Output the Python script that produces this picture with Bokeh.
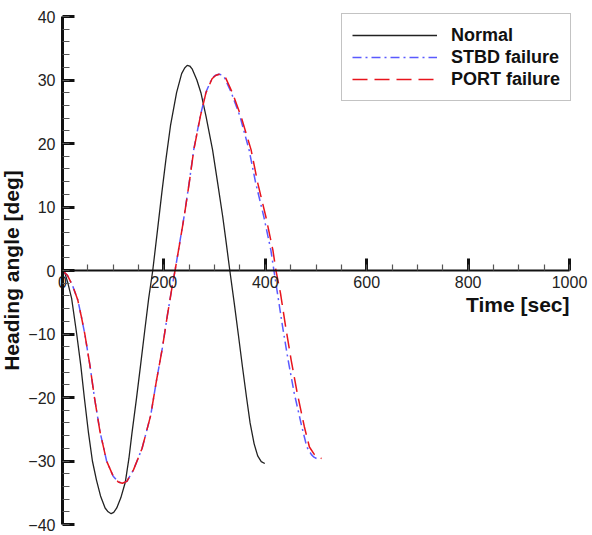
from bokeh.plotting import figure
from bokeh.models import Range1d, SingleIntervalTicker, Label
from bokeh.embed import file_html
from bokeh.resources import INLINE

# ---- data ----
normal_time = [0, 5, 10, 18, 28, 36, 43, 51, 59, 67, 75, 84, 90, 96, 101, 107, 115, 124, 131, 137,
               146, 154, 162, 170, 178, 188, 196, 204, 213, 225, 235, 241, 246, 251, 256, 265, 273,
               283, 296, 306, 316, 323, 330, 339, 347, 355, 363, 370, 378, 385, 392, 399]
normal_heading = [0, -0.5, -1.8, -4.4, -10.0, -14.9, -20.0, -25.4, -30.0, -33.0, -35.5, -37.4,
                  -38.0, -38.3, -38.1, -37.4, -35.8, -33.3, -29.6, -25.6, -20.1, -14.9, -9.6, -4.4,
                  0, 6.8, 12.3, 17.5, 22.8, 28.0, 31.0, 31.9, 32.3, 32.2, 31.7, 30.0, 28.0, 24.3,
                  19.0, 13.8, 8.5, 4.3, 0, -5.3, -10.2, -15.2, -20.0, -24.0, -27.3, -29.2, -30.1,
                  -30.4]

stbd_time = [0, 10, 20, 30, 37, 44, 54, 63, 74, 87, 100, 110, 118, 127, 140, 157, 174, 185, 197, 207,
             218, 222, 231, 240, 250, 259, 272, 283, 295, 301, 308, 314, 320, 333, 350, 368, 381, 397,
             411, 417, 424, 434, 445, 457, 472, 482, 491, 496, 501]
stbd_heading = [0, -0.8, -2.4, -4.6, -7.2, -10.0, -14.9, -20.0, -25.4, -30.0, -32.4, -33.3, -33.5,
                -33.2, -31.4, -28.0, -22.8, -17.5, -12.2, -7.0, -1.7, 0, 4.3, 8.6, 13.9, 19.1, 24.4,
                28.1, 30.3, 30.7, 30.9, 30.8, 30.3, 28.0, 24.3, 19.0, 13.8, 8.5, 3.2, 0, -3.6, -8.8,
                -14.1, -19.3, -24.6, -27.8, -29.0, -29.4, -29.6]

port_time = [0, 10, 20, 30, 37, 44, 54, 63, 74, 87, 100, 110, 118, 127, 140, 157, 174, 185, 197, 207,
             218, 222, 231, 240, 250, 259, 272, 283, 295, 302, 309, 316, 322, 335, 352, 372, 385, 401,
             415, 421, 430, 440, 451, 463, 477, 487, 497, 504, 511]
port_heading = [0, -0.8, -2.4, -4.6, -7.2, -10.0, -14.9, -20.0, -25.4, -30.0, -32.4, -33.3, -33.5,
                -33.2, -31.4, -28.0, -22.8, -17.5, -12.2, -7.0, -1.7, 0, 4.2, 8.5, 13.8, 19.0, 24.3,
                28.0, 30.2, 30.7, 30.9, 30.8, 30.3, 28.0, 24.3, 19.0, 13.8, 8.5, 3.2, 0, -3.6, -8.8,
                -14.1, -19.3, -24.6, -27.8, -29.0, -29.4, -29.6]

X_MIN, X_MAX = 0, 1000
Y_MIN, Y_MAX = -40, 40

# ---- layout: the frame fills the whole canvas, axes sit at data 0 ----
W, H = 592, 535
AX_LEFT, AX_RIGHT, AX_TOP, AX_BOTTOM = 62, 569, 16, 524   # pixel box of the axes
sx = (AX_RIGHT - AX_LEFT) / (X_MAX - X_MIN)
sy = (AX_BOTTOM - AX_TOP) / (Y_MAX - Y_MIN)
x_range = Range1d(X_MIN - AX_LEFT / sx, X_MAX + (W - AX_RIGHT) / sx)
y_range = Range1d(Y_MIN - (H - AX_BOTTOM) / sy, Y_MAX + AX_TOP / sy)

FONT = "Liberation Sans"

p = figure(width=W, height=H, x_range=x_range, y_range=y_range,
           output_backend="svg", toolbar_location=None,
           min_border_left=0, min_border_right=0, min_border_top=0, min_border_bottom=0)
p.outline_line_color = None
p.xgrid.visible = False
p.ygrid.visible = False
p.background_fill_color = "white"
p.border_fill_color = "white"

p.line(normal_time, normal_heading, line_color="#222222", line_width=1.3, legend_label="Normal")
p.line(stbd_time, stbd_heading, line_color="#5a5aff", line_width=1.5, line_dash="9 4 2 4",
       legend_label="STBD failure")
p.line(port_time, port_heading, line_color="#e8141c", line_width=1.5, line_dash="15 7",
       legend_label="PORT failure")

# x axis through y = 0
xa = p.xaxis[0]
xa.fixed_location = 0
xa.bounds = (X_MIN, X_MAX)
xa.ticker = SingleIntervalTicker(interval=200, num_minor_ticks=4)
xa.axis_line_width = 2
xa.axis_line_color = "#111111"
xa.major_tick_in = 12
xa.major_tick_out = 0
xa.minor_tick_in = 6
xa.minor_tick_out = 0
xa.major_tick_line_width = 3
xa.major_tick_line_color = "#111111"
xa.minor_tick_line_width = 1.2
xa.minor_tick_line_color = "#555555"
xa.major_label_text_font = FONT
xa.major_label_text_font_size = "16px"
xa.major_label_text_color = "#222222"
xa.major_label_standoff = 5

# y axis through x = 0
ya = p.yaxis[0]
ya.fixed_location = 0
ya.bounds = (Y_MIN, Y_MAX)
ya.ticker = SingleIntervalTicker(interval=10, num_minor_ticks=5)
ya.axis_line_width = 3
ya.axis_line_color = "#111111"
ya.major_tick_in = 12
ya.major_tick_out = 0
ya.minor_tick_in = 7
ya.minor_tick_out = 0
ya.major_tick_line_width = 3
ya.major_tick_line_color = "#111111"
ya.minor_tick_line_width = 1.2
ya.minor_tick_line_color = "#555555"
ya.major_label_text_font = FONT
ya.major_label_text_font_size = "16px"
ya.major_label_text_color = "#222222"
ya.major_label_standoff = 7
ya.axis_label = "Heading angle [deg]"
ya.axis_label_text_font = FONT
ya.axis_label_text_font_size = "21px"
ya.axis_label_text_font_style = "bold"
ya.axis_label_text_color = "#111111"
ya.axis_label_standoff = 2

p.add_layout(Label(x=X_MAX, y=0, x_units="data", y_units="data", text="Time [sec]",
                   text_align="right", text_baseline="top", y_offset=-22,
                   text_font=FONT, text_font_size="21px", text_font_style="bold",
                   text_color="#111111"))

lg = p.legend[0]
lg.location = (341, H - 101)
lg.margin = 0
lg.padding = 10
lg.spacing = 0
lg.glyph_width = 85
lg.glyph_height = 22
lg.label_height = 22
lg.label_standoff = 14
lg.label_text_font = FONT
lg.label_text_font_size = "18px"
lg.label_text_font_style = "bold"
lg.label_text_color = "#111111"
lg.border_line_color = "#888888"
lg.border_line_width = 1
lg.background_fill_color = "white"
lg.background_fill_alpha = 1.0

open("out.html", "w").write(file_html(p, INLINE))
